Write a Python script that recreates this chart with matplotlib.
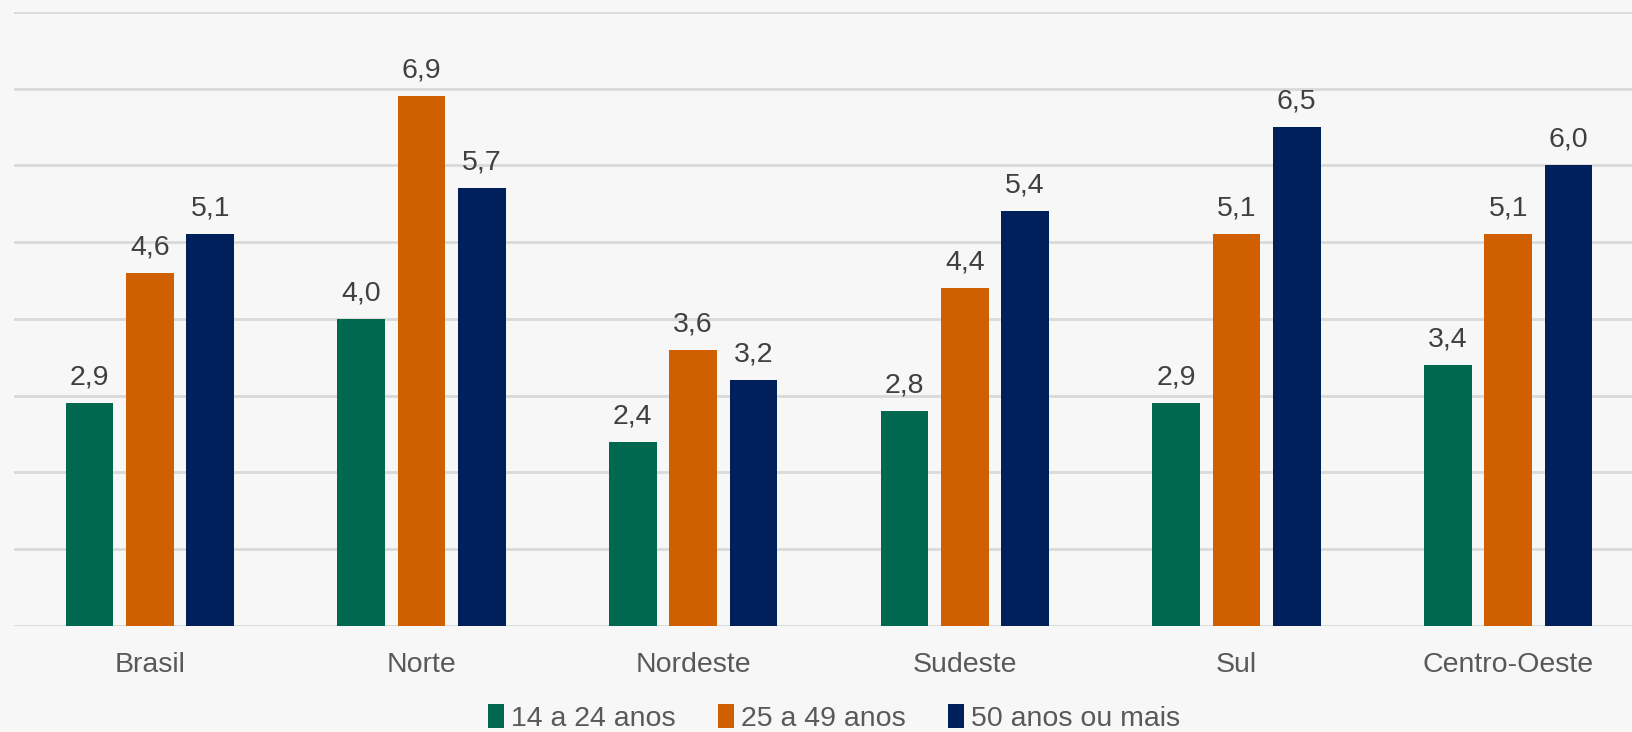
import matplotlib
matplotlib.use("Agg")
import matplotlib.pyplot as plt
import numpy as np

categories = ["Brasil", "Norte", "Nordeste", "Sudeste", "Sul", "Centro-Oeste"]
series_names = ["14 a 24 anos", "25 a 49 anos", "50 anos ou mais"]
v_14_24 = [2.9, 4.0, 2.4, 2.8, 2.9, 3.4]
v_25_49 = [4.6, 6.9, 3.6, 4.4, 5.1, 5.1]
v_50_mais = [5.1, 5.7, 3.2, 5.4, 6.5, 6.0]
series = [v_14_24, v_25_49, v_50_mais]
colors = ["#00684F", "#D05F00", "#00205B"]

plt.rcParams['font.family'] = ['Liberation Sans', 'DejaVu Sans']
bg = "#F7F7F7"
fig = plt.figure(figsize=(16.32, 7.32), dpi=100, facecolor=bg)
ax = fig.add_axes([14/1632, 106.3/732, 1630/1632, 613.7/732], facecolor=bg)

x = np.arange(len(categories))
width = 0.175
pitch = 0.222
for i, (vals, col, name) in enumerate(zip(series, colors, series_names)):
    xs = x + (i - 1) * pitch
    ax.bar(xs, vals, width=width, color=col, label=name, zorder=3)
    for xi, v in zip(xs, vals):
        ax.annotate(f"{v:.1f}".replace(".", ","), (xi, v), xytext=(0, 9),
                    textcoords="offset points", ha="center", va="bottom",
                    fontsize=20.5, color="#404040")

ax.set_xlim(-0.5, len(categories) - 0.5)
ax.set_ylim(0, 8)
ax.set_yticks(np.arange(0, 9, 1))
ax.yaxis.grid(True, color="#D9D9D9", linewidth=2, zorder=0)
ax.tick_params(axis="y", left=False, labelleft=False)
ax.set_xticks(x)
ax.set_xticklabels(categories, fontsize=20.5, color="#595959")
ax.tick_params(axis="x", length=0, pad=19)
for s in ["top", "right", "left", "bottom"]:
    ax.spines[s].set_visible(False)

leg = fig.legend(loc="center", bbox_to_anchor=(834/1632, 1 - 718/732), ncol=3,
                 frameon=False, fontsize=20.5, handlelength=0.55, handleheight=0.9,
                 handletextpad=0.25, columnspacing=1.5)
for t in leg.get_texts():
    t.set_color("#595959")

fig.savefig("out.png", dpi=100, facecolor=bg)
